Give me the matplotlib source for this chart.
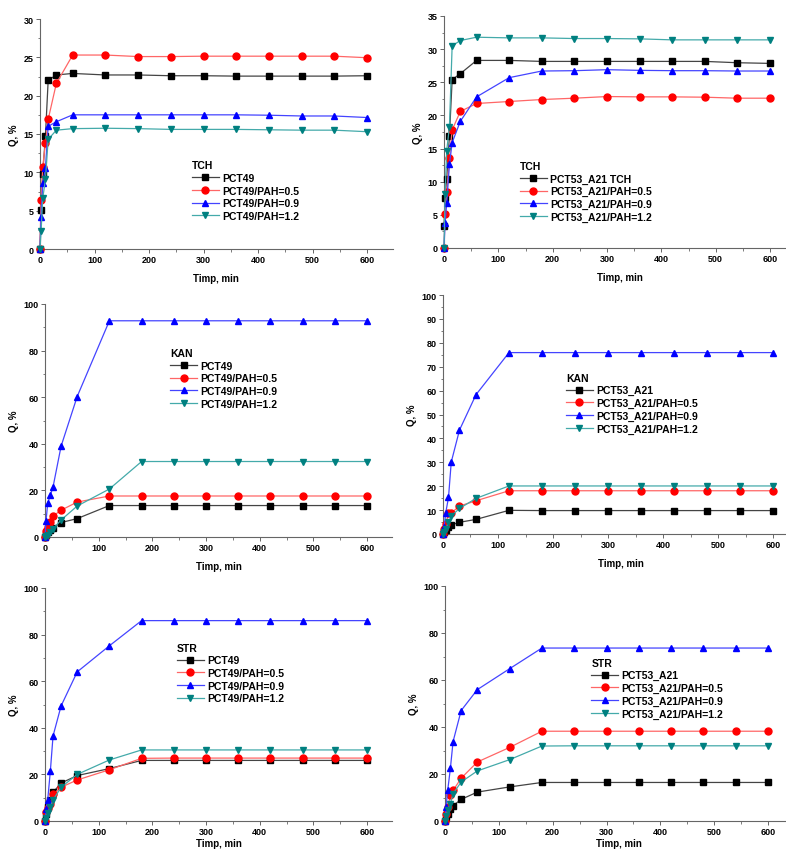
import matplotlib
matplotlib.use("Agg")
import matplotlib.pyplot as plt
from matplotlib.ticker import MultipleLocator

plt.rcParams['font.family'] = ['Liberation Sans', 'DejaVu Sans']
plt.rcParams['font.weight'] = 'bold'

TIME = [0, 2, 5, 10, 15, 30, 60, 120, 180, 240, 300, 360, 420, 480, 540, 600]

# Panel: TCH, PCT49
tch49_labels = ["PCT49", "PCT49/PAH=0.5", "PCT49/PAH=0.9", "PCT49/PAH=1.2"]
tch49_pct = [0, 5.1, 9.8, 14.8, 22.0, 22.7, 22.9, 22.7, 22.7, 22.6, 22.6, 22.55, 22.55, 22.55, 22.55, 22.6]
tch49_05 = [0, 6.4, 10.7, 13.8, 16.9, 21.6, 25.3, 25.3, 25.1, 25.1, 25.15, 25.15, 25.15, 25.15, 25.15, 24.95]
tch49_09 = [0, 4.2, 8.6, 10.6, 16.0, 16.6, 17.5, 17.5, 17.5, 17.5, 17.5, 17.5, 17.45, 17.35, 17.35, 17.15]
tch49_12 = [0, 2.3, 6.6, 9.1, 14.3, 15.5, 15.7, 15.75, 15.7, 15.6, 15.6, 15.6, 15.55, 15.5, 15.5, 15.3]

# Panel: TCH, PCT53_A21
tch53_labels = ["PCT53_A21 TCH", "PCT53_A21/PAH=0.5", "PCT53_A21/PAH=0.9", "PCT53_A21/PAH=1.2"]
tch53_pct = [3.3, 7.5, 10.4, 16.9, 25.4, 26.3, 28.3, 28.3, 28.15, 28.15, 28.15, 28.15, 28.15, 28.15, 27.95, 27.85]
tch53_05 = [0, 5.2, 8.4, 13.6, 17.8, 20.6, 21.8, 22.1, 22.4, 22.6, 22.85, 22.8, 22.8, 22.75, 22.6, 22.6]
tch53_09 = [0, 3.8, 6.8, 12.6, 15.9, 19.1, 22.8, 25.7, 26.7, 26.75, 26.9, 26.8, 26.75, 26.75, 26.7, 26.7]
tch53_12 = [0, 8.1, 14.7, 18.3, 30.5, 31.3, 31.8, 31.7, 31.7, 31.6, 31.6, 31.55, 31.4, 31.4, 31.4, 31.4]

# Panel: KAN, PCT49
kan49_labels = ["PCT49", "PCT49/PAH=0.5", "PCT49/PAH=0.9", "PCT49/PAH=1.2"]
kan49_pct = [0, 1.0, 2.0, 3.0, 4.0, 6.2, 7.9, 13.5, 13.5, 13.5, 13.5, 13.5, 13.5, 13.5, 13.5, 13.5]
kan49_05 = [0, 2.5, 4.5, 6.5, 9.0, 11.5, 15.0, 17.6, 17.6, 17.6, 17.6, 17.6, 17.6, 17.6, 17.6, 17.6]
kan49_09 = [0, 7.0, 14.5, 18.0, 21.5, 39.0, 60.3, 92.8, 92.8, 92.8, 92.8, 92.8, 92.8, 92.8, 92.8, 92.8]
kan49_12 = [0, 0.5, 1.0, 2.0, 3.5, 7.3, 13.3, 20.6, 32.4, 32.4, 32.4, 32.4, 32.4, 32.4, 32.4, 32.4]

# Panel: KAN, PCT53_A21
kan53_labels = ["PCT53_A21", "PCT53_A21/PAH=0.5", "PCT53_A21/PAH=0.9", "PCT53_A21/PAH=1.2"]
kan53_pct = [0, 0.8, 1.5, 3.1, 3.8, 4.9, 6.1, 9.9, 9.8, 9.8, 9.8, 9.8, 9.8, 9.8, 9.8, 9.8]
kan53_05 = [0, 2.0, 4.0, 8.6, 8.8, 11.7, 13.9, 18.1, 18.1, 18.1, 18.1, 18.1, 18.1, 18.1, 18.1, 18.1]
kan53_09 = [0, 3.0, 8.9, 15.3, 30.1, 43.5, 58.3, 75.9, 75.9, 75.9, 75.9, 75.9, 75.9, 75.9, 75.9, 75.9]
kan53_12 = [0, 1.0, 2.0, 5.0, 7.5, 10.7, 14.9, 20.1, 20.1, 20.1, 20.1, 20.1, 20.1, 20.1, 20.1, 20.1]

# Panel: STR, PCT49
str49_labels = ["PCT49", "PCT49/PAH=0.5", "PCT49/PAH=0.9", "PCT49/PAH=1.2"]
str49_pct = [0, 3.0, 6.0, 9.0, 12.3, 16.3, 19.5, 22.5, 26.0, 26.0, 26.0, 26.0, 26.0, 26.0, 26.0, 26.0]
str49_05 = [0, 4.0, 5.5, 7.5, 11.5, 14.5, 17.6, 22.0, 26.9, 27.0, 27.0, 27.0, 27.0, 27.0, 27.0, 27.0]
str49_09 = [0, 5.0, 9.0, 21.5, 36.5, 49.4, 64.0, 75.2, 86.0, 86.0, 86.0, 86.0, 86.0, 86.0, 86.0, 86.0]
str49_12 = [0, 1.5, 3.5, 6.0, 9.0, 14.5, 20.0, 26.2, 30.5, 30.5, 30.5, 30.5, 30.5, 30.5, 30.5, 30.5]

# Panel: STR, PCT53_A21
str53_labels = ["PCT53_A21", "PCT53_A21/PAH=0.5", "PCT53_A21/PAH=0.9", "PCT53_A21/PAH=1.2"]
str53_pct = [0, 1.5, 3.0, 5.0, 6.5, 9.2, 12.3, 14.5, 16.4, 16.4, 16.4, 16.4, 16.4, 16.4, 16.4, 16.4]
str53_05 = [0, 3.0, 6.0, 11.0, 13.0, 18.2, 25.1, 31.3, 38.2, 38.2, 38.2, 38.2, 38.2, 38.2, 38.2, 38.2]
str53_09 = [0, 6.0, 13.0, 22.4, 33.8, 47.0, 55.9, 64.8, 73.6, 73.6, 73.6, 73.6, 73.6, 73.6, 73.6, 73.6]
str53_12 = [0, 2.0, 4.5, 7.4, 11.6, 16.6, 21.3, 26.1, 31.9, 32.0, 32.0, 32.0, 32.0, 32.0, 32.0, 32.0]

MARKER_COLORS = ["#000000", "#ff0000", "#0000ff", "#008080"]
LINE_COLORS = ["#444444", "#ff6666", "#4444ff", "#44aaaa"]
MARKERS = ["s", "o", "^", "v"]

W, H = 786, 853
fig = plt.figure(figsize=(W / 100, H / 100), dpi=100)


def make_ax(x0, y_top, y_bot, px600):
    """x0: pixel of x=0; y_top/y_bot pixel rows; px600: pixel width of 600 min."""
    xmax = 647
    width = px600 * xmax / 600
    return fig.add_axes([x0 / W, 1 - y_bot / H, width / W, (y_bot - y_top) / H])


panels = [
    dict(pos=(40, 20, 250, 327), ylim=30, ystep=5, title="TCH", labels=tch49_labels,
         series=[tch49_pct, tch49_05, tch49_09, tch49_12], leg=(0.43, 0.385), xpad=6),
    dict(pos=(444, 17, 249, 326), ylim=35, ystep=5, title="TCH", labels=tch53_labels,
         series=[tch53_pct, tch53_05, tch53_09, tch53_12], leg=(0.215, 0.375), xpad=6),
    dict(pos=(45, 305, 538, 322), ylim=100, ystep=20, title="KAN", labels=kan49_labels,
         series=[kan49_pct, kan49_05, kan49_09, kan49_12], leg=(0.36, 0.81), xpad=6),
    dict(pos=(443, 296, 535, 330), ylim=100, ystep=10, title="KAN", labels=kan53_labels,
         series=[kan53_pct, kan53_05, kan53_09, kan53_12], leg=(0.345, 0.675), xpad=6),
    dict(pos=(45, 589, 822, 322), ylim=100, ystep=20, title="STR", labels=str49_labels,
         series=[str49_pct, str49_05, str49_09, str49_12], leg=(0.38, 0.765), xpad=1.5),
    dict(pos=(445, 587, 822, 323), ylim=100, ystep=20, title="STR", labels=str53_labels,
         series=[str53_pct, str53_05, str53_09, str53_12], leg=(0.42, 0.695), xpad=1.5),
]

for p in panels:
    ax = make_ax(*p["pos"])
    for i, ys in enumerate(p["series"]):
        ax.plot(TIME, ys, color=LINE_COLORS[i], lw=0.9, marker=MARKERS[i],
                markerfacecolor=MARKER_COLORS[i], markeredgecolor=MARKER_COLORS[i],
                markersize=5, label=p["labels"][i], clip_on=False, zorder=3)
    ax.set_xlim(0, 647)
    ax.set_ylim(0, p["ylim"])
    ax.xaxis.set_major_locator(MultipleLocator(100))
    ax.xaxis.set_minor_locator(MultipleLocator(50))
    ax.yaxis.set_major_locator(MultipleLocator(p["ystep"]))
    ax.yaxis.set_minor_locator(MultipleLocator(p["ystep"] / 2))
    for s in ["top", "right"]:
        ax.spines[s].set_visible(False)
    for s in ["left", "bottom"]:
        ax.spines[s].set_color("#666666")
        ax.spines[s].set_linewidth(0.8)
    ax.tick_params(which="major", direction="out", length=3, width=0.7,
                   labelsize=6.5, pad=1.5, colors="#666666", labelcolor="black")
    ax.tick_params(which="minor", direction="out", length=1.8, width=0.6, colors="#666666")
    for lab in ax.get_xticklabels() + ax.get_yticklabels():
        lab.set_fontweight("bold")
    ax.set_xlabel("Timp, min", fontsize=7, fontweight="bold", labelpad=p["xpad"])
    ax.set_ylabel("Q, %", fontsize=7, fontweight="bold", labelpad=3)
    ax.patch.set_alpha(0)
    leg = ax.legend(loc="upper left", bbox_to_anchor=p["leg"], frameon=False,
                    title=p["title"], fontsize=7.5, title_fontsize=7.5,
                    handlelength=2.6, handletextpad=0.3, labelspacing=0.25,
                    borderpad=0, borderaxespad=0, markerscale=1.0)
    leg._legend_box.align = "left"
    leg.get_title().set_fontweight("bold")
    for t in leg.get_texts():
        t.set_fontweight("bold")

fig.savefig("out.png", dpi=100)
